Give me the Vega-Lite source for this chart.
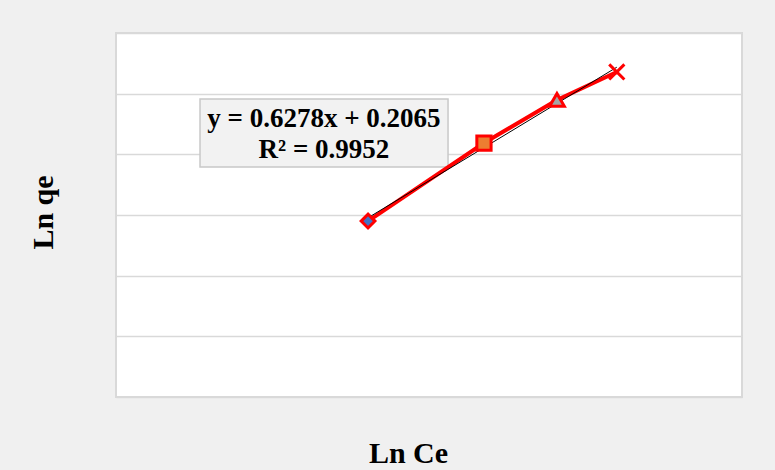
{
  "$schema": "https://vega.github.io/schema/vega-lite/v6.json",
  "width": 626,
  "height": 364,
  "autosize": {"type": "none"},
  "padding": {"left": 116, "top": 33, "right": 33, "bottom": 73},
  "background": "#f0f0f0",
  "config": {
    "view": {"stroke": "#d9d9d9", "strokeWidth": 2, "fill": "white"},
    "font": "Liberation Serif"
  },
  "datasets": {
    "pts": [
      {"lnCe": 2.013, "lnqe": 1.45, "series": "s1"},
      {"lnCe": 2.939, "lnqe": 2.093, "series": "s2"},
      {"lnCe": 3.522, "lnqe": 2.448, "series": "s3"},
      {"lnCe": 4.0, "lnqe": 2.679, "series": "s4"}
    ],
    "box": [
      {"x1": 0.671, "x2": 2.652, "y1": 1.896, "y2": 2.456, "cx": 1.661, "cy": 2.291, "label": "y = 0.6278x + 0.2065\nR² = 0.9952"}
    ]
  },
  "layer": [
    {
      "data": {"name": "box"},
      "mark": {"type": "rect", "fill": "#f2f2f2", "stroke": "#c8c8c8", "strokeWidth": 1.5},
      "encoding": {
        "x": {"field": "x1", "type": "quantitative", "scale": {"domain": [0, 5]},
          "axis": {"title": "Ln Ce", "labels": false, "ticks": false, "domain": false, "grid": false,
            "titleFont": "Liberation Serif", "titleFontSize": 30, "titleFontWeight": "bold", "titleColor": "#000",
            "titleX": 292, "titleY": 56, "titleBaseline": "middle", "titleAlign": "center"}},
        "x2": {"field": "x2"},
        "y": {"field": "y1", "type": "quantitative", "scale": {"domain": [0, 3]},
          "axis": {"title": "Ln qe", "labels": false, "ticks": false, "domain": false, "grid": true,
            "values": [0, 0.5, 1, 1.5, 2, 2.5, 3], "gridColor": "#d9d9d9", "gridWidth": 1.5,
            "titleFont": "Liberation Serif", "titleFontSize": 30, "titleFontWeight": "bold", "titleColor": "#000",
            "titleX": -73, "titleY": 179, "titleBaseline": "middle", "titleAlign": "center", "titleAngle": -90}},
        "y2": {"field": "y2"}
      }
    },
    {
      "data": {"name": "box"},
      "mark": {"type": "text", "font": "Liberation Serif", "fontSize": 27, "fontWeight": "bold", "color": "#000", "lineBreak": "\n", "lineHeight": 31, "baseline": "middle", "align": "center"},
      "encoding": {
        "x": {"field": "cx", "type": "quantitative"},
        "y": {"field": "cy", "type": "quantitative"},
        "text": {"field": "label"}
      }
    },
    {
      "data": {"name": "pts"},
      "mark": {"type": "line", "color": "#ff0000", "strokeWidth": 4},
      "encoding": {
        "x": {"field": "lnCe", "type": "quantitative"},
        "y": {"field": "lnqe", "type": "quantitative"}
      }
    },
    {
      "data": {"name": "pts"},
      "transform": [{"regression": "lnqe", "on": "lnCe", "method": "linear"}],
      "mark": {"type": "line", "color": "#000000", "strokeWidth": 1},
      "encoding": {
        "x": {"field": "lnCe", "type": "quantitative"},
        "y": {"field": "lnqe", "type": "quantitative"}
      }
    },
    {
      "data": {"name": "pts"},
      "mark": {"type": "point", "filled": true, "stroke": "#ff0000", "strokeWidth": 2.5, "opacity": 1},
      "encoding": {
        "x": {"field": "lnCe", "type": "quantitative"},
        "y": {"field": "lnqe", "type": "quantitative"},
        "shape": {"field": "series", "type": "nominal", "legend": null,
          "scale": {"domain": ["s1", "s2", "s3", "s4"], "range": ["diamond", "square", "triangle-up", "M-1,-1L1,1M1,-1L-1,1"]}},
        "fill": {"field": "series", "type": "nominal", "legend": null,
          "scale": {"domain": ["s1", "s2", "s3", "s4"], "range": ["#4472c4", "#ed7d31", "#a5a5a5", "#ff0000"]}},
        "size": {"field": "series", "type": "nominal", "legend": null,
          "scale": {"domain": ["s1", "s2", "s3", "s4"], "range": [190, 230, 270, 280]}},
        "strokeWidth": {"field": "series", "type": "nominal", "legend": null,
          "scale": {"domain": ["s1", "s2", "s3", "s4"], "range": [3, 3, 3, 3.5]}}
      }
    }
  ]
}
